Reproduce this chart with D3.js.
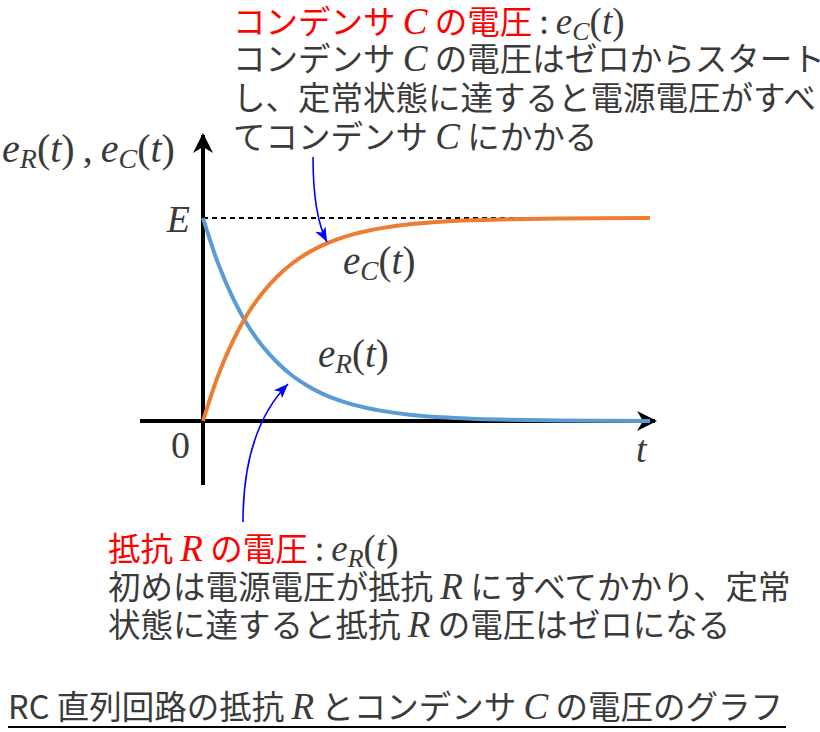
<!DOCTYPE html>
<html>
<head>
<meta charset="utf-8">
<script src="https://cdn.jsdelivr.net/npm/d3@7"></script>
<style>
  body { margin: 0; background: #fff; }
  svg text { font-family: "Noto Sans CJK JP", "Noto Sans", sans-serif; fill: #3a3a3a; }
  .math { font-family: "Liberation Serif", "DejaVu Serif", serif; font-style: italic; }
  .up { font-style: normal; }
</style>
</head>
<body>
<svg id="chart"></svg>
<script>
// time in units of the time constant, values as a fraction of E
const times = [0, 0.25, 0.5, 0.75, 1, 1.25, 1.5, 1.75, 2, 2.25, 2.5, 2.75, 3, 3.5, 4, 4.5, 5, 6, 7.5]
const voltageC = [0, 0.221, 0.393, 0.528, 0.632, 0.713, 0.777, 0.826, 0.865, 0.895, 0.918, 0.936, 0.95, 0.97, 0.982, 0.989, 0.993, 0.998, 1]
const voltageR = [1, 0.779, 0.607, 0.472, 0.368, 0.287, 0.223, 0.174, 0.135, 0.105, 0.082, 0.064, 0.05, 0.03, 0.018, 0.011, 0.007, 0.002, 0]
const levelTicks = [{ v: 0, label: "0", italic: false, dy: 37 }, { v: 1, label: "E", italic: true, dy: 14 }]

const width = 820
const height = 732

const svg = d3.select("#chart").attr("width", width).attr("height", height)

const x = d3.scaleLinear().domain([0, 7.5]).range([203, 650])
const y = d3.scaleLinear().domain([0, 1]).range([421, 218])

const defs = svg.append("defs")
defs.append("marker")
  .attr("id", "blk")
  .attr("viewBox", "0 0 10 10")
  .attr("refX", 9).attr("refY", 5)
  .attr("markerWidth", 5).attr("markerHeight", 5)
  .attr("markerUnits", "strokeWidth")
  .attr("orient", "auto")
  .append("path").attr("d", "M0,0 L10,5 L0,10 L3,5 Z").attr("fill", "#000")
defs.append("marker")
  .attr("id", "blu")
  .attr("viewBox", "0 0 10 10")
  .attr("refX", 10).attr("refY", 5)
  .attr("markerWidth", 9).attr("markerHeight", 9)
  .attr("markerUnits", "strokeWidth")
  .attr("orient", "auto")
  .append("path").attr("d", "M0,1 L10,5 L0,9 L2.5,5 Z").attr("fill", "#0000ff")

// dashed level E
svg.append("line")
  .attr("x1", x(0)).attr("x2", x(7.5))
  .attr("y1", y(1)).attr("y2", y(1))
  .attr("stroke", "#000").attr("stroke-width", 1.8)
  .attr("stroke-dasharray", "5,4")

// axes
svg.append("line")
  .attr("x1", 140).attr("x2", 655)
  .attr("y1", y(0)).attr("y2", y(0))
  .attr("stroke", "#000").attr("stroke-width", 4)
  .attr("marker-end", "url(#blk)")
svg.append("line")
  .attr("x1", x(0)).attr("x2", x(0))
  .attr("y1", 485).attr("y2", 135)
  .attr("stroke", "#000").attr("stroke-width", 4)
  .attr("marker-end", "url(#blk)")

// curves
const line = d3.line()
  .x((d, i) => x(times[i]))
  .y((d) => y(d))
  .curve(d3.curveCatmullRom.alpha(0.5))

svg.append("path")
  .attr("d", line(voltageR))
  .attr("fill", "none").attr("stroke", "#5b9bd5").attr("stroke-width", 4)
svg.append("path")
  .attr("d", line(voltageC))
  .attr("fill", "none").attr("stroke", "#ed7d31").attr("stroke-width", 4)

// math text helper: e_sub(t)
const mathE = (sel, sub, size) => {
  sel.append("tspan").attr("class", "math").attr("font-size", size).text("e")
  sel.append("tspan").attr("class", "math").attr("font-size", size * 0.7).attr("dy", size * 0.16).text(sub)
  sel.append("tspan").attr("class", "math up").attr("font-size", size).attr("dy", -size * 0.16).text("(")
  sel.append("tspan").attr("class", "math").attr("font-size", size).text("t")
  sel.append("tspan").attr("class", "math up").attr("font-size", size).text(")")
}

// tick labels
svg.selectAll(".lvl")
  .data(levelTicks)
  .join("text")
  .attr("class", (d) => d.italic ? "math" : "math up")
  .attr("x", 190)
  .attr("y", (d) => y(d.v) + d.dy)
  .attr("text-anchor", "end")
  .attr("font-size", 38)
  .text((d) => d.label)

svg.append("text").attr("class", "math")
  .attr("x", 636).attr("y", 462).attr("font-size", 38).text("t")

// y axis label
const yl = svg.append("text").attr("x", 2).attr("y", 162)
mathE(yl, "R", 40)
yl.append("tspan").attr("class", "math up").attr("font-size", 40).text("\u2009,\u2009")
mathE(yl, "C", 40)

// curve labels
mathE(svg.append("text").attr("x", 343).attr("y", 274), "C", 39)
mathE(svg.append("text").attr("x", 318).attr("y", 367), "R", 39)

// annotation arrows
svg.append("path")
  .attr("d", "M313,157 Q313,215 327,242")
  .attr("fill", "none").attr("stroke", "#0000ff").attr("stroke-width", 1.6)
  .attr("marker-end", "url(#blu)")
svg.append("path")
  .attr("d", "M243,522 Q243,430 288,384")
  .attr("fill", "none").attr("stroke", "#0000ff").attr("stroke-width", 1.6)
  .attr("marker-end", "url(#blu)")

// annotation text blocks
const fs = 32.5
const ms = 37
const addLine = (xp, yp, parts) => {
  const t = svg.append("text").attr("x", xp).attr("y", yp).attr("font-size", fs)
  parts.forEach((p) => {
    if (p.math) {
      mathE(t, p.math, ms)
    } else if (p.sym) {
      t.append("tspan").attr("class", "math").attr("font-size", ms).style("fill", p.red ? "#ff0000" : null).text(p.sym)
    } else {
      t.append("tspan").style("fill", p.red ? "#ff0000" : null).text(p.t)
    }
  })
  return t
}

addLine(233, 34, [{ t: "コンデンサ ", red: true }, { sym: "C", red: true }, { t: " の電圧", red: true }, { t: " : " }, { math: "C" }])
addLine(233, 71, [{ t: "コンデンサ " }, { sym: "C" }, { t: " の電圧はゼロからスタート" }])
addLine(233, 110, [{ t: "し、定常状態に達すると電源電圧がすべ" }])
addLine(233, 149, [{ t: "てコンデンサ " }, { sym: "C" }, { t: " にかかる" }])

addLine(108, 561, [{ t: "抵抗 ", red: true }, { sym: "R", red: true }, { t: " の電圧", red: true }, { t: " : " }, { math: "R" }])
addLine(108, 599, [{ t: "初めは電源電圧が抵抗 " }, { sym: "R" }, { t: " にすべてかかり、定常" }])
addLine(108, 637, [{ t: "状態に達すると抵抗 " }, { sym: "R" }, { t: " の電圧はゼロになる" }])

// caption
const cap = svg.append("text").attr("x", 8).attr("y", 719).attr("font-size", fs)
cap.append("tspan").text("RC 直列回路の抵抗 ")
cap.append("tspan").attr("class", "math").attr("font-size", ms).text("R")
cap.append("tspan").text(" とコンデンサ ")
cap.append("tspan").attr("class", "math").attr("font-size", ms).text("C")
cap.append("tspan").text(" の電圧のグラフ")
svg.append("line")
  .attr("x1", 8).attr("x2", 786).attr("y1", 727).attr("y2", 727)
  .attr("stroke", "#000").attr("stroke-width", 2.2)
</script>
</body>
</html>
